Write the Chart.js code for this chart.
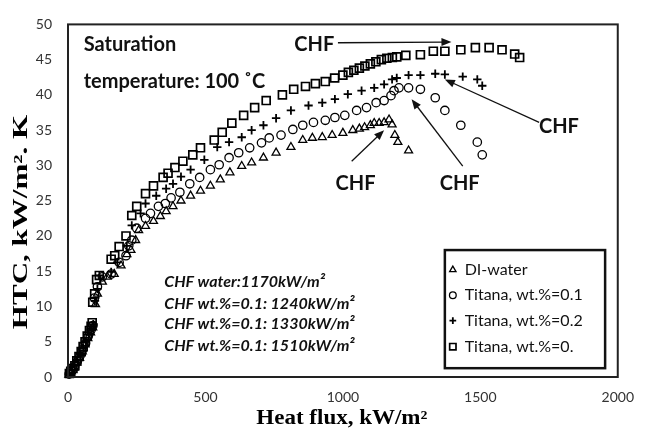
<!DOCTYPE html>
<html><head><meta charset="utf-8">
<script src="https://cdn.jsdelivr.net/npm/chart.js@4.4.1/dist/chart.umd.min.js"></script>
<style>html,body{margin:0;padding:0;background:#fff}</style>
</head><body>
<canvas id="c" width="646" height="433"></canvas>
<script>
// ---- data ----
const seriesLabels = ['DI-water', 'Titana, wt.%=0.1', 'Titana, wt.%=0.2', 'Titana, wt.%=0.'];

const waterX = [3,12,22,32,42,52,62,72,82,90,100,107,125,143,168,193,214,229,246,257,282,311,336,357,382,411,446,482,518,554,589,632,668,711,757,811,854,889,925,961,1000,1036,1060,1079,1100,1114,1132,1150,1168,1179,1189,1200,1239];
const waterY = [0.3,0.8,1.3,2,2.7,3.6,4.6,5.5,6.3,7,10.3,11.8,13.5,14.2,14.6,15.8,17.4,18,19.4,20.8,21.4,22.1,22.8,23.5,24.2,25,25.7,26.4,27.1,28,29,29.9,30.4,31.1,31.8,32.6,33.6,33.9,34,34.3,34.6,35,35.2,35.4,35.7,36,36,36.1,36.5,35.8,34.3,33.3,32.1];

const t01X = [4,14,24,34,44,54,64,74,84,91,96,107,125,157,186,211,221,232,250,282,300,329,354,375,407,443,479,518,550,586,621,661,704,732,775,818,854,893,936,971,1007,1050,1086,1121,1150,1175,1186,1204,1239,1282,1336,1371,1429,1489,1507];
const t01Y = [0.4,0.9,1.5,2.2,3,3.9,4.8,5.8,6.7,7.3,11.2,12.8,14.2,14.6,16.25,17.2,18.6,19.4,21.1,22.5,23.2,24.2,24.6,25.4,26.2,27.4,28.3,29.4,30.1,31.1,31.8,32.5,33.2,33.9,34.3,35.1,35.7,36.1,36.4,36.8,37.1,37.8,38.2,38.9,39.2,39.9,40.6,41,41,40.8,39.6,37.8,35.7,33.3,31.5];

const t02X = [5,15,25,35,45,55,65,75,85,92,98,107,114,157,179,214,232,264,282,321,357,382,411,446,496,543,586,632,668,711,757,811,875,925,971,1018,1068,1114,1150,1179,1196,1239,1282,1336,1371,1436,1489,1507];
const t02Y = [0.5,1,1.6,2.4,3.2,4.1,5,6,6.9,7.5,10.8,12.5,14.4,14.9,16.25,18.6,21.5,23.2,24.6,25.7,26.7,27.4,28.4,29.4,30.8,32.6,33.3,34,35,35.7,36.7,37.8,38.5,38.9,39.4,40.1,40.6,41,41.5,42.2,42.4,42.8,42.8,43,42.9,42.6,42.2,41.3];

const t03X = [5,10,18,25,32,40,48,55,62,70,78,84,88,90,97,104,114,157,170,186,211,232,250,282,311,346,364,389,418,454,482,532,561,596,639,679,721,780,821,864,900,936,970,1000,1020,1040,1060,1080,1100,1120,1140,1160,1180,1196,1229,1282,1329,1371,1429,1482,1532,1579,1625,1643];
const t03Y = [0.5,0.8,1.2,1.6,2.3,2.9,3.6,4.3,5,5.8,6.6,7.2,7.7,10.6,11.8,13.8,14.4,16.7,17.2,18.5,20,22.9,24.2,26,27.1,28.3,28.9,29.7,30.6,31.5,32.5,33.6,34.7,36,37.1,38.2,39.2,40,40.8,41.2,41.6,41.9,42.4,42.8,43.2,43.5,43.8,44.1,44.4,44.7,45,45.2,45.3,45.4,45.6,45.7,46.2,46.2,46.4,46.7,46.7,46.4,45.8,45.3];

const xTickValues = [0, 500, 1000, 1500, 2000];
const yTickValues = [0, 5, 10, 15, 20, 25, 30, 35, 40, 45, 50];

const noteLines = ['CHF water:1170kW/m\u00B2', 'CHF wt.%=0.1: 1240kW/m\u00B2', 'CHF wt.%=0.1: 1330kW/m\u00B2', 'CHF wt.%=0.1: 1510kW/m\u00B2'];

// ---- helpers ----
const toPts = (xs, ys) => xs.map((x, i) => ({x: x, y: ys[i]}));
const SANS = 'Lato, "Open Sans", sans-serif';
const SERIF = '"Liberation Serif", "DejaVu Serif", serif';

const styles = [
  {pointStyle: 'triangle', r: 4.6, w: 1.3},
  {pointStyle: 'circle', r: 4.2, w: 1.3},
  {pointStyle: 'cross', r: 4.2, w: 1.8},
  {pointStyle: 'rect', r: 5.6, w: 1.7}
];
const seriesData = [toPts(waterX, waterY), toPts(t01X, t01Y), toPts(t02X, t02Y), toPts(t03X, t03Y)];

const datasets = seriesData.map((d, i) => ({
  label: seriesLabels[i],
  data: d,
  showLine: false,
  pointStyle: styles[i].pointStyle,
  pointRadius: styles[i].r,
  pointBorderWidth: styles[i].w,
  borderColor: '#000',
  backgroundColor: 'rgba(0,0,0,0)',
  pointBackgroundColor: 'rgba(0,0,0,0)',
  clip: false
}));

// annotation placements in data units
const textNotes = [
  {text: 'Saturation', x: 57, y: 47.2, font: 'bold 20px ' + SANS, align: 'left'},
  {text: 'temperature: 100 \u02DAC', x: 57, y: 41.9, font: 'bold 20px ' + SANS, align: 'left'},
  {text: 'CHF', x: 896, y: 47.2, font: 'bold 20px ' + SANS, align: 'center'},
  {text: 'CHF', x: 1786, y: 35.5, font: 'bold 20px ' + SANS, align: 'center'},
  {text: 'CHF', x: 1046, y: 27.4, font: 'bold 20px ' + SANS, align: 'center'},
  {text: 'CHF', x: 1425, y: 27.4, font: 'bold 20px ' + SANS, align: 'center'}
];
const arrows = [
  {x1: 982, y1: 47.4, x2: 1395, y2: 47.5},
  {x1: 1714, y1: 36.1, x2: 1371, y2: 42.2},
  {x1: 1032, y1: 30.6, x2: 1150, y2: 35},
  {x1: 1436, y1: 29.9, x2: 1250, y2: 39.4}
];
const noteBlock = {x: 350, y: [13.5, 10.4, 7.6, 4.4], font: 'italic bold 16px ' + SANS};
const legendBox = {x1: 1371, x2: 1954, y1: 18.0, y2: 1.25, rows: [15.2, 11.6, 8.0, 4.3], markX: 1400, textX: 1443};

function drawArrow(ctx, x1, y1, x2, y2) {
  const ang = Math.atan2(y2 - y1, x2 - x1);
  const hl = 10, hw = 4;
  ctx.beginPath();
  ctx.moveTo(x1, y1);
  ctx.lineTo(x2 - hl * 0.8 * Math.cos(ang), y2 - hl * 0.8 * Math.sin(ang));
  ctx.lineWidth = 1.3;
  ctx.strokeStyle = '#111';
  ctx.stroke();
  ctx.beginPath();
  ctx.moveTo(x2, y2);
  ctx.lineTo(x2 - hl * Math.cos(ang) + hw * Math.sin(ang), y2 - hl * Math.sin(ang) - hw * Math.cos(ang));
  ctx.lineTo(x2 - hl * Math.cos(ang) - hw * Math.sin(ang), y2 - hl * Math.sin(ang) + hw * Math.cos(ang));
  ctx.closePath();
  ctx.fillStyle = '#111';
  ctx.fill();
}

const decor = {
  id: 'decor',
  beforeDraw(chart) {
    const ctx = chart.ctx;
    ctx.save();
    ctx.fillStyle = '#fff';
    ctx.fillRect(0, 0, chart.width, chart.height);
    ctx.restore();
  },
  afterDraw(chart) {
    const ctx = chart.ctx, xs = chart.scales.x, ys = chart.scales.y, a = chart.chartArea;
    const X = v => xs.getPixelForValue(v), Y = v => ys.getPixelForValue(v);
    ctx.save();
    // plot frame
    ctx.strokeStyle = '#222';
    ctx.lineWidth = 2;
    ctx.strokeRect(a.left, a.top, a.right - a.left, a.bottom - a.top);
    // texts
    ctx.fillStyle = '#111';
    ctx.textBaseline = 'middle';
    textNotes.forEach(t => {
      ctx.font = t.font;
      ctx.textAlign = t.align;
      ctx.fillText(t.text, X(t.x), Y(t.y));
    });
    arrows.forEach(r => drawArrow(ctx, X(r.x1), Y(r.y1), X(r.x2), Y(r.y2)));
    // italic notes
    ctx.fillStyle = '#111';
    ctx.font = noteBlock.font;
    ctx.textAlign = 'left';
    noteLines.forEach((s, i) => ctx.fillText(s, X(noteBlock.x), Y(noteBlock.y[i])));
    // legend
    const lb = legendBox;
    ctx.lineWidth = 2.5;
    ctx.strokeStyle = '#111';
    ctx.strokeRect(X(lb.x1), Y(lb.y1), X(lb.x2) - X(lb.x1), Y(lb.y2) - Y(lb.y1));
    ctx.font = '16px ' + SANS;
    chart.data.datasets.forEach((ds, i) => {
      const cy = Y(lb.rows[i]);
      ctx.fillStyle = '#fff';
      ctx.strokeStyle = '#000';
      ctx.lineWidth = ds.pointBorderWidth;
      Chart.helpers.drawPoint(ctx, {pointStyle: ds.pointStyle, radius: ds.pointRadius * 0.8, borderWidth: ds.pointBorderWidth, rotation: 0}, X(lb.markX), cy);
      ctx.fillStyle = '#111';
      ctx.fillText(ds.label, X(lb.textX), cy);
    });
    // axis titles
    ctx.fillStyle = '#000';
    ctx.save();
    ctx.translate((a.left + a.right) / 2 - 1, 424);
    ctx.scale(1.15, 1);
    ctx.font = 'bold 20px ' + SERIF;
    ctx.textAlign = 'center';
    ctx.textBaseline = 'alphabetic';
    ctx.fillText('Heat flux, kW/m\u00B2', 0, 0);
    ctx.restore();
    ctx.save();
    ctx.translate(27, 222);
    ctx.rotate(-Math.PI / 2);
    ctx.scale(1.55, 1);
    ctx.font = 'bold 20px ' + SERIF;
    ctx.textAlign = 'center';
    ctx.textBaseline = 'alphabetic';
    ctx.fillText('HTC, kW/m\u00B2. K', 0, 0);
    ctx.restore();
    ctx.restore();
  }
};

new Chart(document.getElementById('c'), {
  type: 'scatter',
  data: {datasets: datasets},
  options: {
    responsive: false,
    animation: false,
    layout: {padding: {top: 17, right: 18, left: 0, bottom: 0}},
    plugins: {legend: {display: false}, tooltip: {enabled: false}},
    scales: {
      x: {
        type: 'linear', min: 0, max: 2000,
        grid: {display: false, drawTicks: false},
        border: {display: false},
        ticks: {font: {family: SANS, size: 14}, color: '#333', padding: 12, callback: v => String(v)},
        afterBuildTicks: s => { s.ticks = xTickValues.map(v => ({value: v})); },
        afterFit: s => { s.height = 56; }
      },
      y: {
        type: 'linear', min: 0, max: 50,
        grid: {display: false, drawTicks: false},
        border: {display: false},
        ticks: {font: {family: SANS, size: 14}, color: '#333', padding: 16, callback: v => String(v)},
        afterBuildTicks: s => { s.ticks = yTickValues.map(v => ({value: v})); },
        afterFit: s => { s.width = 68; }
      }
    }
  },
  plugins: [decor]
});
</script>
</body></html>
